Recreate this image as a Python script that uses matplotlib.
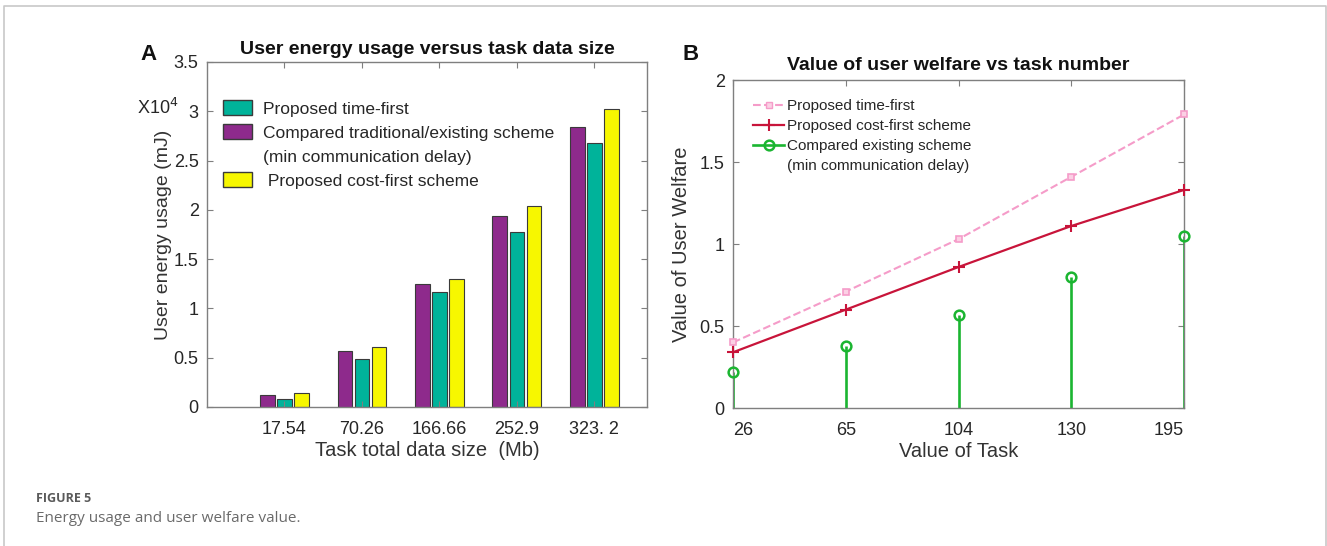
import numpy as np
import matplotlib
matplotlib.use("Agg")
import matplotlib.pyplot as plt
from matplotlib.patches import Patch
from matplotlib.lines import Line2D

plt.rcParams['font.family'] = ['Liberation Sans', 'DejaVu Sans']

# ---------------- datos ----------------
# Panel A: consumo de energía (x10^4 mJ)
tamanos = ['17.54', '70.26', '166.66', '252.9', '323. 2']
comparado = [0.12, 0.565, 1.245, 1.935, 2.845]   # morado
tiempo = [0.08, 0.485, 1.165, 1.78, 2.68]        # verde azulado
costo = [0.14, 0.605, 1.30, 2.04, 3.02]          # amarillo
ytick_a = [0, 0.5, 1, 1.5, 2, 2.5, 3, 3.5]
ylab_a = ['0', '0.5', '1', '1.5', '2', '2.5', '3', '3.5']

# Panel B: bienestar del usuario
tareas = ['26', '65', '104', '130', '195']
b_tiempo = [0.40, 0.71, 1.03, 1.41, 1.79]
b_costo = [0.34, 0.60, 0.86, 1.11, 1.33]
b_existente = [0.22, 0.38, 0.57, 0.80, 1.05]
ytick_b = [0, 0.5, 1, 1.5, 2]
ylab_b = ['0', '0.5', '1', '1.5', '2']

c_morado = '#8E2A8C'
c_teal = '#00B39A'
c_amarillo = '#F7F700'
c_rosa = '#F59CC9'
c_rojo = '#C8143A'
c_verde = '#1BB531'
c_eje = '#7F7F7F'
c_txt = '#262626'

fig = plt.figure(figsize=(13.27, 5.46), dpi=100)

# marco gris de la página
fig.add_artist(Line2D([0.0028, 0.0028, 0.9992, 0.9992], [0.0, 0.989, 0.989, 0.0],
                      color='#C8C8C8', lw=1.2, transform=fig.transFigure))


def estilo(ax):
    for s in ax.spines.values():
        s.set_color(c_eje)
        s.set_linewidth(1.0)
    ax.tick_params(direction='in', top=True, right=True, length=4, width=0.8,
                   color=c_eje, labelsize=13, labelcolor=c_txt)
    ax.tick_params(axis='x', pad=10)
    ax.tick_params(axis='y', pad=6)


# =============================================================================
# PANEL A
# =============================================================================
ax = fig.add_axes([0.156, 0.2546, 0.3316, 0.6319])
x = np.arange(1, len(tamanos) + 1)
w = 0.19
ax.bar(x - 0.22, comparado, w, color=c_morado, edgecolor='#3A3A3A', lw=0.8)
ax.bar(x, tiempo, w, color=c_teal, edgecolor='#3A3A3A', lw=0.8)
ax.bar(x + 0.22, costo, w, color=c_amarillo, edgecolor='#3A3A3A', lw=0.8)
ax.set_xlim(0.0, 5.68)
ax.set_ylim(0, 3.5)
ax.set_xticks(x)
ax.set_xticklabels(tamanos)
ax.set_yticks(ytick_a)
ax.set_yticklabels(ylab_a)
estilo(ax)
ax.set_xlabel('Task total data size  (Mb)', fontsize=14.5, color='#333333', labelpad=2)
ax.set_ylabel('User energy usage (mJ)', fontsize=14, color='#333333', labelpad=1)
ax.set_title('User energy usage versus task data size', fontsize=14,
             fontweight='bold', color='#111111', pad=6)
ax.text(-0.158, 3.03, 'X10$^{4}$', transform=ax.get_yaxis_transform(),
        ha='left', va='center', fontsize=13, color=c_txt)
fig.text(140 / 1327, 1 - 55 / 546, 'A', fontsize=16, fontweight='bold',
         ha='left', va='center', color='#111111')

handles_a = [Patch(facecolor=c_teal, edgecolor='#3A3A3A'),
             Patch(facecolor=c_morado, edgecolor='#3A3A3A'),
             Patch(facecolor='none', edgecolor='none'),
             Patch(facecolor=c_amarillo, edgecolor='#3A3A3A')]
labels_a = ['Proposed time-first',
            'Compared traditional/existing scheme',
            '(min communication delay)',
            ' Proposed cost-first scheme']
ax.legend(handles_a, labels_a, loc='upper left', bbox_to_anchor=(0.036, 0.89),
          frameon=False, fontsize=12.5, handlelength=1.7, handleheight=1.0,
          handletextpad=0.6, labelspacing=0.42, borderpad=0, borderaxespad=0,
          labelcolor=c_txt)

# =============================================================================
# PANEL B
# =============================================================================
bx = fig.add_axes([0.5524, 0.2527, 0.3399, 0.6007])
xb = np.arange(1, len(tareas) + 1)
bx.plot(xb, b_tiempo, '--', color=c_rosa, lw=1.5, marker='s', ms=5,
        mfc='#FBD0E4', mec=c_rosa, mew=1.2, clip_on=False, zorder=3)
bx.plot(xb, b_costo, '-', color=c_rojo, lw=1.6, marker='+', ms=9, mew=1.5,
        clip_on=False, zorder=4)
bx.vlines(xb, 0, b_existente, color=c_verde, lw=1.9, zorder=2)
bx.plot(xb, b_existente, 'o', color=c_verde, ms=7, mfc='none', mew=1.8,
        clip_on=False, zorder=5)
bx.set_xlim(1, 5)
bx.set_ylim(0, 2)
bx.set_xticks(xb)
bx.set_xticklabels(tareas)
bx.set_yticks(ytick_b)
bx.set_yticklabels(ylab_b)
estilo(bx)
lbls = bx.get_xticklabels()
lbls[0].set_ha('left')
lbls[-1].set_ha('right')
bx.set_xlabel('Value of Task', fontsize=14.5, color='#333333', labelpad=2)
bx.set_ylabel('Value of User Welfare', fontsize=14.5, color='#333333', labelpad=6)
bx.set_title('Value of user welfare vs task number', fontsize=14,
             fontweight='bold', color='#111111', pad=7)
fig.text(683 / 1327, 1 - 55 / 546, 'B', fontsize=16, fontweight='bold',
         ha='left', va='center', color='#111111')

handles_b = [Line2D([], [], ls='--', color=c_rosa, lw=1.5, marker='s', ms=5,
                    mfc='#FBD0E4', mec=c_rosa),
             Line2D([], [], ls='-', color=c_rojo, lw=1.6, marker='+', ms=9, mew=1.5),
             Line2D([], [], ls='-', color=c_verde, lw=1.9, marker='o', ms=7,
                    mfc='none', mew=1.8),
             Line2D([], [], color='none')]
labels_b = ['Proposed time-first', 'Proposed cost-first scheme',
            'Compared existing scheme', '(min communication delay)']
bx.legend(handles_b, labels_b, loc='upper left', bbox_to_anchor=(0.045, 0.942),
          frameon=False, fontsize=11, handlelength=2.0, handletextpad=0.2,
          labelspacing=0.4, borderpad=0, borderaxespad=0, labelcolor=c_txt)

# =============================================================================
# pie de figura
# =============================================================================
fig.text(36 / 1327, 1 - 499 / 546, 'FIGURE 5', fontsize=9, fontweight='bold',
         family=['Open Sans', 'DejaVu Sans'], color='#5A5A5A', va='center')
fig.text(36 / 1327, 1 - 519 / 546, 'Energy usage and user welfare value.',
         fontsize=11, family=['Open Sans', 'DejaVu Sans'], color='#6A6A6A',
         va='center')

plt.savefig('out.png', dpi=100)
